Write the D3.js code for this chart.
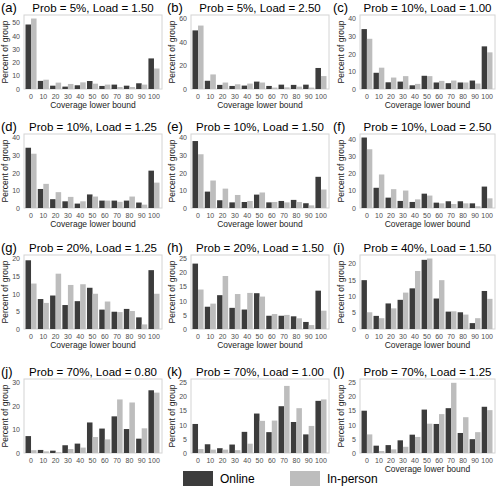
<!DOCTYPE html>
<html><head><meta charset="utf-8">
<script src="https://cdn.jsdelivr.net/npm/d3@7"></script>
<style>
body{margin:0;background:#fff}
svg{display:block}
text{font-family:"Liberation Sans",Arial,Helvetica,sans-serif}
</style>
</head><body>
<svg id="chart" width="500" height="493"></svg>
<script>
const categories = ["0","10","20","30","40","50","60","70","80","90","100"];
const seriesNames = ["Online","In-person"];
const panelLetters = ["(a)","(b)","(c)","(d)","(e)","(f)","(g)","(h)","(i)","(j)","(k)","(l)"];
const panelTitles = [
  "Prob = 5%, Load = 1.50","Prob = 5%, Load = 2.50","Prob = 10%, Load = 1.00",
  "Prob = 10%, Load = 1.25","Prob = 10%, Load = 1.50","Prob = 10%, Load = 2.50",
  "Prob = 20%, Load = 1.25","Prob = 20%, Load = 1.50","Prob = 40%, Load = 1.50",
  "Prob = 70%, Load = 0.80","Prob = 70%, Load = 1.00","Prob = 70%, Load = 1.25"];
// x-axis titles hidden under the legend band in the reference for (j) and (k)
const showXTitle = [true,true,true,true,true,true,true,true,true,false,false,true];

const onlineA   = [48.5, 6.1, 2.5, 1.8, 2.8, 6.0, 2.3, 3.3, 2.5, 4.3, 23.0];
const inpersonA = [53.0, 7.0, 4.8, 3.8, 5.0, 4.0, 3.3, 1.5, 1.5, 3.3, 15.4];
const onlineB   = [49.9, 7.0, 3.5, 2.6, 2.9, 6.3, 2.6, 3.7, 3.5, 3.7, 17.9];
const inpersonB = [54.0, 12.4, 5.5, 4.0, 4.6, 5.5, 1.2, 1.4, 2.0, 1.2, 11.0];
const onlineC   = [34.0, 9.2, 3.8, 4.2, 2.1, 7.5, 3.7, 3.3, 3.7, 4.8, 24.2];
const inpersonC = [28.5, 12.1, 6.5, 7.3, 2.9, 7.3, 4.6, 4.8, 3.7, 3.1, 20.8];
const onlineD   = [34.2, 10.8, 5.0, 3.8, 2.5, 7.7, 4.2, 4.2, 4.2, 3.1, 21.2];
const inpersonD = [30.8, 13.7, 9.0, 6.3, 3.8, 6.5, 4.2, 3.5, 6.5, 1.9, 14.4];
const onlineE   = [38.0, 9.3, 4.4, 3.2, 3.4, 7.6, 3.2, 4.0, 4.6, 2.7, 17.7];
const inpersonE = [30.5, 15.6, 11.0, 7.4, 4.0, 8.8, 3.4, 3.2, 3.4, 1.5, 10.5];
const onlineF   = [40.8, 11.7, 6.0, 4.1, 3.5, 8.3, 3.1, 3.9, 3.9, 2.7, 12.4];
const inpersonF = [34.0, 19.4, 10.9, 10.1, 5.0, 7.2, 2.7, 2.3, 2.7, 1.0, 5.6];
const onlineG   = [19.5, 8.5, 9.5, 6.8, 7.9, 11.7, 5.5, 4.9, 5.7, 3.3, 16.7];
const inpersonG = [12.9, 7.4, 15.7, 12.5, 12.7, 10.0, 7.8, 4.8, 5.1, 1.3, 10.0];
const onlineH   = [23.2, 7.9, 12.0, 7.5, 6.9, 12.7, 4.7, 4.7, 4.5, 2.5, 13.6];
const inpersonH = [14.0, 9.0, 18.8, 12.4, 12.8, 11.5, 5.3, 5.0, 3.8, 1.4, 6.5];
const onlineI   = [14.9, 4.0, 7.8, 8.9, 12.4, 21.1, 9.3, 5.3, 5.1, 1.8, 11.6];
const inpersonI = [5.1, 3.3, 6.3, 11.1, 17.7, 21.5, 14.9, 5.4, 4.4, 3.3, 9.2];
const onlineJ   = [7.2, 1.3, 1.0, 3.3, 4.0, 13.0, 10.4, 15.6, 10.2, 6.1, 26.7];
const inpersonJ = [1.2, 0.7, 0.3, 1.7, 2.3, 6.8, 5.8, 22.8, 21.5, 10.5, 25.7];
const onlineK   = [10.3, 3.1, 1.7, 3.0, 7.5, 14.0, 7.4, 16.6, 11.0, 6.6, 18.5];
const inpersonK = [1.4, 1.2, 1.2, 1.0, 3.3, 11.4, 11.5, 23.8, 15.9, 9.6, 19.0];
const onlineL   = [15.0, 2.6, 2.8, 4.5, 6.5, 15.4, 10.3, 15.9, 7.1, 4.9, 16.4];
const inpersonL = [6.6, 0.7, 1.3, 2.2, 5.7, 10.4, 13.8, 24.9, 12.7, 7.4, 15.2];

const yTickTops  = [50, 60, 40, 40, 40, 40, 20, 25, 20, 30, 25, 25];
const yTickSteps = [10, 20, 10, 10, 10, 10, 5, 5, 5, 10, 5, 5];

const onlineAll = [onlineA, onlineB, onlineC, onlineD, onlineE, onlineF, onlineG, onlineH, onlineI, onlineJ, onlineK, onlineL];
const inpersonAll = [inpersonA, inpersonB, inpersonC, inpersonD, inpersonE, inpersonF, inpersonG, inpersonH, inpersonI, inpersonJ, inpersonK, inpersonL];

// layout
const colLeft = [24, 191, 360];
const colRight = [162, 329, 495];
const rowTop = [15, 134, 255, 379];
const plotH = 74;
const colors = {"Online": "#3c3c3c", "In-person": "#bdbdbd"};

const svg = d3.select("#chart");

panelTitles.forEach((title, i) => {
  const r = Math.floor(i / 3), c = i % 3;
  const left = colLeft[c], right = colRight[c], top = rowTop[r], bottom = top + plotH;
  const g = svg.append("g");
  const on = onlineAll[i], ip = inpersonAll[i];
  const maxV = Math.max(yTickTops[i], d3.max(on), d3.max(ip));
  const y = d3.scaleLinear().domain([0, maxV * 1.05]).range([bottom, top]);
  const x0 = d3.scaleBand().domain(categories).range([left + 1.5, right - 2.5]).paddingInner(0.1).paddingOuter(0);
  const x1 = d3.scaleBand().domain(seriesNames).range([0, x0.bandwidth()]);

  // frame
  g.append("rect").attr("x", left).attr("y", top).attr("width", right - left).attr("height", plotH)
    .attr("fill", "none").attr("stroke", "#d4d4d4").attr("stroke-width", 1);

  const rows = categories.map((cat, k) => ({cat, vals: [{s: "Online", v: on[k]}, {s: "In-person", v: ip[k]}]}));
  g.selectAll("g.grp").data(rows).join("g").attr("class", "grp")
    .attr("transform", d => `translate(${x0(d.cat)},0)`)
    .selectAll("rect").data(d => d.vals).join("rect")
    .attr("x", d => x1(d.s)).attr("width", x1.bandwidth())
    .attr("y", d => y(d.v)).attr("height", d => bottom - y(d.v))
    .attr("fill", d => colors[d.s]);

  // axes
  const yTicks = d3.range(0, yTickTops[i] + 0.001, yTickSteps[i]);
  const ya = g.append("g").attr("transform", `translate(${left},0)`)
    .call(d3.axisLeft(y).tickValues(yTicks).tickSize(0).tickPadding(4));
  ya.select(".domain").remove();
  ya.selectAll("text").attr("font-size", 7).attr("fill", "#4d4d4d").attr("font-family", "Liberation Sans, Arial, sans-serif");

  const xa = g.append("g").attr("transform", `translate(0,${bottom})`)
    .call(d3.axisBottom(x0).tickSize(0).tickPadding(5));
  xa.select(".domain").remove();
  xa.selectAll("text").attr("font-size", 7).attr("fill", "#4d4d4d").attr("font-family", "Liberation Sans, Arial, sans-serif");

  // axis titles
  if (showXTitle[i]) {
    g.append("text").attr("x", (left + right) / 2).attr("y", bottom + 19)
      .attr("text-anchor", "middle").attr("font-size", 8.5).attr("fill", "#222").text("Coverage lower bound");
  }
  g.append("text").attr("transform", `translate(${left - 16},${(top + bottom) / 2}) rotate(-90)`)
    .attr("text-anchor", "middle").attr("font-size", 8.5).attr("fill", "#222").text("Percent of group");

  // titles
  g.append("text").attr("x", (left + right) / 2).attr("y", top - 3.5)
    .attr("text-anchor", "middle").attr("font-size", 11.5).attr("fill", "#000").text(title);
  g.append("text").attr("x", c * 166 + 1).attr("y", top - 3.5)
    .attr("font-size", 13).attr("fill", "#000").text(panelLetters[i]);
});

// legend
const lg = svg.append("g");
const legX = [183, 290];
seriesNames.forEach((s, k) => {
  lg.append("rect").attr("x", legX[k]).attr("y", 471).attr("width", 30).attr("height", 15).attr("fill", colors[s]);
  lg.append("text").attr("x", legX[k] + 37).attr("y", 483).attr("font-size", 12).attr("fill", "#000").text(s);
});
</script>
</body></html>
